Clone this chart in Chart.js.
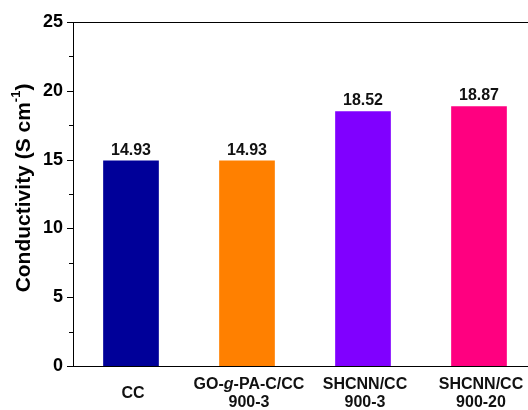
<!DOCTYPE html>
<html>
<head>
<meta charset="utf-8">
<script src="https://cdn.jsdelivr.net/npm/chart.js@4/dist/chart.umd.min.js"></script>
<style>
  html, body { margin: 0; padding: 0; background: #fff; overflow: hidden; }
  #wrap { width: 540px; height: 410px; }
</style>
</head>
<body>
<div id="wrap"><canvas id="chart" width="540" height="410"></canvas></div>
<script>
// data; _x_ marks italic text in a label
const categories = [['CC'], ['GO-_g_-PA-C/CC', '900-3'], ['SHCNN/CC', '900-3'], ['SHCNN/CC', '900-20']];
const conductivity = [14.93, 14.93, 18.52, 18.87];
const barColors = ['#000099', '#FF8000', '#8000FF', '#FF0080'];
const yTicks = [0, 5, 10, 15, 20, 25];

const FONT = '"Liberation Sans", Arial, sans-serif';

// top frame line, y tick marks, titles, bar value labels
const decorations = {
  id: 'decorations',
  afterDraw(chart) {
    const ctx = chart.ctx;
    const area = chart.chartArea;
    const y = chart.scales.y;
    const x = chart.scales.x;
    ctx.save();
    ctx.strokeStyle = '#000';
    ctx.lineWidth = 1;

    // top line
    ctx.beginPath();
    ctx.moveTo(area.left, area.top + 0.5);
    ctx.lineTo(area.right, area.top + 0.5);
    ctx.stroke();

    // major + minor ticks, outwards
    for (let v = 0; v <= 25; v += 2.5) {
      const py = Math.round(y.getPixelForValue(v)) + 0.5;
      const len = v % 5 === 0 ? 6 : 4;
      ctx.beginPath();
      ctx.moveTo(area.left - len, py);
      ctx.lineTo(area.left, py);
      ctx.stroke();
    }

    // value labels above bars
    ctx.fillStyle = '#111';
    ctx.font = 'bold 16px ' + FONT;
    ctx.textAlign = 'center';
    ctx.textBaseline = 'alphabetic';
    chart.getDatasetMeta(0).data.forEach((bar, i) => {
      ctx.fillText(conductivity[i].toFixed(2), bar.x, bar.y - 6);
    });

    // x category labels (with italic parts)
    ctx.textAlign = 'left';
    ctx.textBaseline = 'middle';
    categories.forEach((lines, i) => {
      const cx = x.getPixelForTick(i) + 2;
      const lineH = 18;
      const top = 394 - (lines.length - 1) * lineH / 2;
      lines.forEach((line, j) => {
        const parts = line.split('_').map((t, k) => ({ t, italic: k % 2 === 1 }));
        let w = 0;
        parts.forEach(p => {
          ctx.font = (p.italic ? 'italic ' : '') + 'bold 16px ' + FONT;
          p.w = ctx.measureText(p.t).width;
          w += p.w;
        });
        let px = cx - w / 2;
        parts.forEach(p => {
          ctx.font = (p.italic ? 'italic ' : '') + 'bold 16px ' + FONT;
          ctx.fillText(p.t, px, top + j * lineH);
          px += p.w;
        });
      });
    });

    // y axis title with superscript
    ctx.translate(24, 188);
    ctx.rotate(-Math.PI / 2);
    const main = 'Conductivity (S cm';
    const sup = '-1';
    const end = ')';
    ctx.font = 'bold 21px ' + FONT;
    const wMain = ctx.measureText(main).width;
    const wEnd = ctx.measureText(end).width;
    ctx.font = 'bold 13px ' + FONT;
    const wSup = ctx.measureText(sup).width;
    let px = -(wMain + wSup + wEnd) / 2;
    ctx.fillStyle = '#000';
    ctx.font = 'bold 21px ' + FONT;
    ctx.fillText(main, px, 0);
    px += wMain;
    ctx.font = 'bold 13px ' + FONT;
    ctx.fillText(sup, px, -8);
    px += wSup;
    ctx.font = 'bold 21px ' + FONT;
    ctx.fillText(end, px, 0);
    ctx.restore();
  }
};

new Chart(document.getElementById('chart'), {
  type: 'bar',
  data: {
    labels: categories.map(l => l.join(' ')),
    datasets: [{
      data: conductivity,
      backgroundColor: barColors,
      borderWidth: 0,
      barPercentage: 0.48,
      categoryPercentage: 1
    }]
  },
  options: {
    responsive: false,
    animation: false,
    devicePixelRatio: 1,
    layout: { padding: { top: 22, right: 3, left: 0, bottom: 0 } },
    plugins: {
      legend: { display: false },
      tooltip: { enabled: false }
    },
    scales: {
      x: {
        grid: { display: false, drawTicks: false },
        border: { display: true, color: '#000', width: 1 },
        ticks: { display: false },
        afterFit: (scale) => { scale.height = 44; }
      },
      y: {
        min: 0,
        max: 25,
        grid: { display: false, drawTicks: false },
        border: { display: true, color: '#000', width: 1 },
        ticks: {
          stepSize: 2.5,
          padding: 10,
          color: '#000',
          font: { family: FONT, size: 18, weight: 'bold' },
          callback: (v) => yTicks.includes(v) ? v : ''
        },
        afterFit: (scale) => { scale.width = 73; }
      }
    }
  },
  plugins: [decorations]
});
</script>
</body>
</html>
